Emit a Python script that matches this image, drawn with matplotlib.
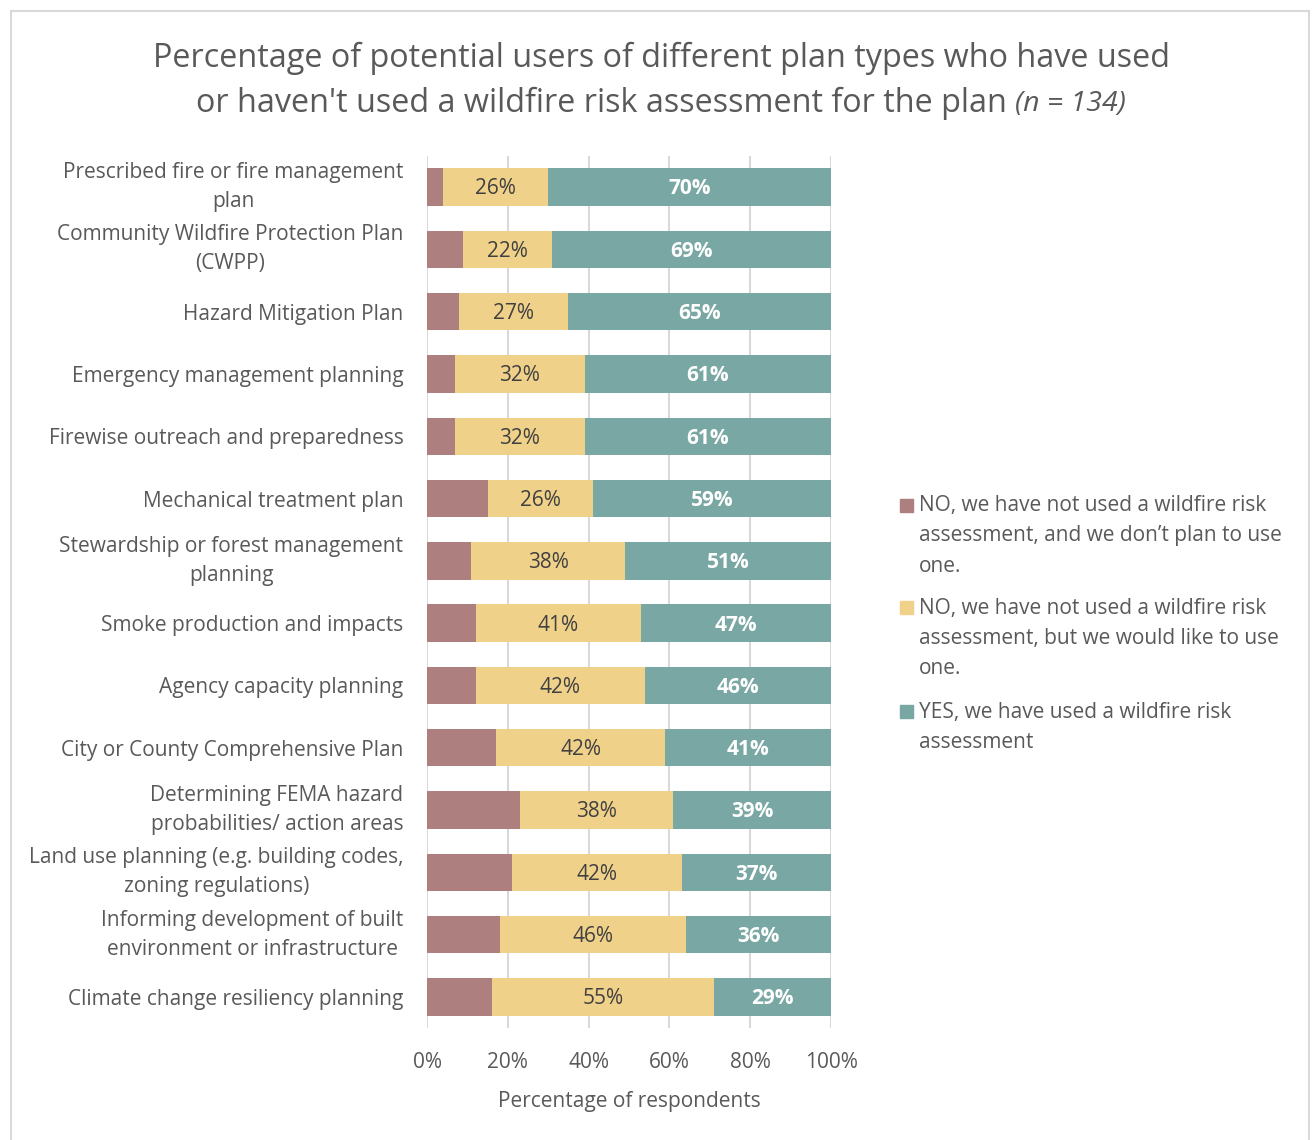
import matplotlib
matplotlib.use('Agg')
import matplotlib.pyplot as plt
from matplotlib.patches import Rectangle
import numpy as np

plt.rcParams['font.family'] = ['Open Sans', 'DejaVu Sans']

# Plan types, top to bottom
plans = [
    'Prescribed fire or fire management\nplan',
    'Community Wildfire Protection Plan\n(CWPP)',
    'Hazard Mitigation Plan',
    'Emergency management planning',
    'Firewise outreach and preparedness',
    'Mechanical treatment plan',
    'Stewardship or forest management\nplanning',
    'Smoke production and impacts',
    'Agency capacity planning',
    'City or County Comprehensive Plan',
    'Determining FEMA hazard\nprobabilities/ action areas',
    'Land use planning (e.g. building codes,\nzoning regulations)',
    'Informing development of built\nenvironment or infrastructure',
    'Climate change resiliency planning',
]

# Percent of respondents per answer
no_dont_plan = [4, 9, 8, 7, 7, 15, 11, 12, 12, 17, 23, 21, 18, 16]
no_would_like = [26, 22, 27, 32, 32, 26, 38, 41, 42, 42, 38, 42, 46, 55]
yes_used = [70, 69, 65, 61, 61, 59, 51, 47, 46, 41, 39, 37, 36, 29]

legend_labels = [
    'NO, we have not used a wildfire risk\nassessment, and we don\u2019t plan to use\none.',
    'NO, we have not used a wildfire risk\nassessment, but we would like to use\none.',
    'YES, we have used a wildfire risk\nassessment',
]

c_red = '#AD7F7F'
c_yel = '#F0D18A'
c_teal = '#79A7A3'
txt = '#595959'

fig = plt.figure(figsize=(13.12, 11.4), dpi=100)
ax = fig.add_axes([0.3255, 0.0982, 0.3079, 0.765])

y = np.arange(len(plans))
red = np.array(no_dont_plan)
yel = np.array(no_would_like)
teal = np.array(yes_used)

h = 0.6
ax.barh(y, red, height=h, color=c_red, zorder=3)
ax.barh(y, yel, left=red, height=h, color=c_yel, zorder=3)
ax.barh(y, teal, left=red + yel, height=h, color=c_teal, zorder=3)

for i in range(len(plans)):
    ax.text(red[i] + yel[i] / 2, y[i] + 0.03, f'{yel[i]}%', ha='center', va='center',
            fontsize=15, color='#404040', zorder=4)
    ax.text(red[i] + yel[i] + teal[i] / 2, y[i] + 0.03, f'{teal[i]}%', ha='center',
            va='center', fontsize=15, color='white', fontweight='bold', zorder=4)

ax.set_xlim(0, 100)
ax.set_ylim(len(plans) - 0.5, -0.5)
ax.set_xticks(np.arange(0, 101, 20))
ax.set_xticklabels([f'{v}%' for v in range(0, 101, 20)])
ax.set_yticks(y)
ax.set_yticklabels(plans, multialignment='center', linespacing=1.5)
for lab in ax.get_yticklabels():
    # two-line labels sit centred on their bar
    if '\n' in lab.get_text():
        lab.set_verticalalignment('center')
ax.tick_params(axis='both', length=0, labelsize=15, labelcolor=txt)
ax.tick_params(axis='y', pad=17)
ax.tick_params(axis='x', pad=17)
ax.grid(axis='x', color='#D9D9D9', linewidth=1.5, zorder=0)
ax.set_axisbelow(True)
for s in ax.spines.values():
    s.set_visible(False)
ax.set_xlabel('Percentage of respondents', fontsize=15, color=txt, labelpad=13)

# title: plain first line, second line ends with italic sample size
fig.text(0.504, 0.9485, 'Percentage of potential users of different plan types who have used',
         ha='center', va='center', fontsize=23.3, color=txt)
t_main = fig.text(0, 0.909, "or haven't used a wildfire risk assessment for the plan ",
                  ha='left', va='center', fontsize=23.3, color=txt)
t_n = fig.text(0, 0.909, '(n = 134)', ha='left', va='center', fontsize=20.5,
               style='italic', color=txt)
fig.canvas.draw()
r = fig.canvas.get_renderer()
w1 = t_main.get_window_extent(r).width / fig.bbox.width
w2 = t_n.get_window_extent(r).width / fig.bbox.width
x0 = 0.504 - (w1 + w2) / 2
t_main.set_x(x0)
t_n.set_x(x0 + w1)

# legend
leg_y = [0.557, 0.467, 0.376]
for lab, col, ly in zip(legend_labels, [c_red, c_yel, c_teal], leg_y):
    fig.patches.append(Rectangle((900 / 1312, ly - 0.006), 13 / 1312, 13 / 1140,
                                 transform=fig.transFigure, color=col))
    fig.text(919 / 1312, ly + 0.0085, lab, ha='left', va='top', fontsize=15,
             color=txt, linespacing=1.57)

# outer frame
fig.patches.append(Rectangle((11 / 1312, -0.01), 1298 / 1312, 1 - 11 / 1140 + 0.01,
                             transform=fig.transFigure, fill=False,
                             edgecolor='#D9D9D9', linewidth=1.5))

fig.savefig('out.png', dpi=100)
